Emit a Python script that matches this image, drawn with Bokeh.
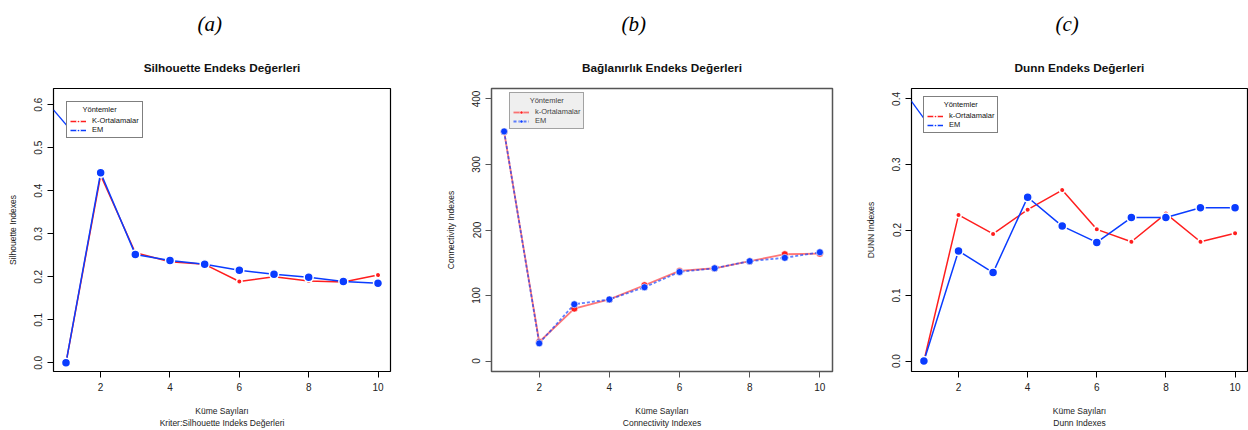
from bokeh.plotting import figure
from bokeh.models import (Range1d, FixedTicker, PrintfTickFormatter, Legend, LegendItem, Title)
from bokeh.layouts import row
from bokeh.embed import file_html
from bokeh.resources import INLINE

# ---------------- data ----------------
kume = [1, 2, 3, 4, 5, 6, 7, 8, 9, 10]

sil_kmeans = [0.0, 0.436, 0.256, 0.235, 0.229, 0.189, 0.200, 0.190, 0.188, 0.204]
sil_em = [0.0, 0.442, 0.252, 0.238, 0.229, 0.215, 0.206, 0.199, 0.189, 0.185]

con_kmeans = [350, 29, 80, 94, 115.7, 137.6, 141.6, 152.4, 163, 164]
con_em = [350.5, 27, 86.6, 94, 112.6, 136, 141.6, 152.4, 157.5, 166]

dunn_kmeans = [0.0, 0.223, 0.194, 0.231, 0.261, 0.201, 0.182, 0.225, 0.182, 0.195]
dunn_em = [0.0, 0.168, 0.135, 0.250, 0.206, 0.181, 0.219, 0.219, 0.234, 0.234]

# stray legend connector lines visible in the original panels (a) and (c)
stray_a_x = [0.64, 1.16]
stray_a_y = [0.588, 0.539]
stray_c_x = [0.63, 1.13]
stray_c_y = [0.397, 0.361]

x_ticks = [2, 4, 6, 8, 10]
sil_ticks = [0.0, 0.1, 0.2, 0.3, 0.4, 0.5, 0.6]
con_ticks = [0, 100, 200, 300, 400]
dunn_ticks = [0.0, 0.1, 0.2, 0.3, 0.4]

panel_letters = ["(a)", "(b)", "(c)"]
titles = ["Silhouette Endeks Değerleri", "Bağlanırlık Endeks Değerleri", "Dunn Endeks Değerleri"]
xlab1 = "Küme Sayıları"
xlab2 = ["Kriter:Silhouette Indeks Değerleri", "Connectivity Indexes", "Dunn Indexes"]
ylabs = ["Silhouette Indexes", "Connectivity Indexes", "DUNN Indexes"]
legend_title = "Yöntemler"
legend_labels_a = ["K-Ortalamalar", "EM"]
legend_labels_b = ["k-Ortalamalar", "EM"]
legend_labels_c = ["k-Ortalamalar", "EM"]

FONT = "Liberation Sans"
RED = "#ff1e1e"
BLUE = "#0a3cff"
H = 430


def make_panel(width, bl, br, x_end, y_rng, y_ticks, fmt,
               km, em, letter, title, x2, ylab, leg_labels, leg_loc, leg_pad_n,
               letter_offset, stray=None, style="a"):
    p = figure(width=width, height=H, output_backend="svg", toolbar_location=None,
               x_range=Range1d(0.64, x_end), y_range=Range1d(*y_rng),
               min_border_left=bl, min_border_right=br, min_border_top=87,
               min_border_bottom=59, background_fill_color="white",
               border_fill_color="white", title=None)

    p.grid.visible = False
    box_col = "#555555" if style == "b" else "black"
    p.outline_line_color = box_col
    p.outline_line_width = 1.5 if style == "b" else 1.2

    for ax in (p.xaxis[0], p.yaxis[0]):
        ax.axis_line_color = None
        ax.major_tick_out = 6
        ax.major_tick_in = 0
        ax.minor_tick_line_color = None
        ax.major_tick_line_color = box_col
        ax.major_label_text_font = FONT
        ax.major_label_text_font_size = "10px"
        ax.major_label_text_color = "#222222"
        ax.major_label_standoff = 5
        ax.axis_label_text_font = FONT
        ax.axis_label_text_font_size = "8.5px"
        ax.axis_label_text_font_style = "normal"
        ax.axis_label_text_color = "#222222"
    p.xaxis.ticker = FixedTicker(ticks=x_ticks)
    p.yaxis.ticker = FixedTicker(ticks=y_ticks)
    p.yaxis.formatter = PrintfTickFormatter(format=fmt)
    p.yaxis.major_label_orientation = "vertical"
    p.yaxis.axis_label = ylab
    p.yaxis.axis_label_standoff = 14
    p.xaxis.axis_label = xlab1 + "\n" + x2
    p.xaxis.axis_label_standoff = 12

    if stray is not None:
        p.line(stray[0], stray[1], color=BLUE, line_width=1.3)

    if style == "b":
        rl = p.line(kume, km, color=RED, line_width=1.8, line_alpha=0.6)
        rs = p.scatter(kume, km, size=7, fill_color=RED, line_color="white",
                       line_width=1, line_alpha=0.6)
        bln = p.line(kume, em, color=BLUE, line_width=1.8, line_alpha=0.65, line_dash="3 2")
        bs = p.scatter(kume, em, size=7, fill_color=BLUE, line_color="white",
                       line_width=1, line_alpha=0.6)
    else:
        rl = p.line(kume, km, color=RED, line_width=1.5)
        rs = p.scatter(kume, km, size=5.5, fill_color=RED, line_color="white", line_width=1.5)
        bln = p.line(kume, em, color=BLUE, line_width=1.5)
        bs = p.scatter(kume, em, size=9, fill_color=BLUE, line_color="white", line_width=1.5)

    txt_col = "#444444" if style == "b" else "#111111"
    leg = Legend(items=[LegendItem(label=leg_labels[0], renderers=[rl, rs]),
                        LegendItem(label=leg_labels[1], renderers=[bln, bs])],
                 location=leg_loc, orientation="vertical",
                 title="\u00a0" * leg_pad_n + legend_title,
                 title_text_font=FONT, title_text_font_size="7.5px",
                 title_text_font_style="normal", title_text_color=txt_col,
                 title_standoff=2,
                 label_text_font=FONT, label_text_font_size="7.5px",
                 label_text_color=txt_col,
                 label_height=8, glyph_height=8, glyph_width=16,
                 label_standoff=6, spacing=0, padding=3, margin=0,
                 border_line_color=box_col, border_line_width=1.3,
                 background_fill_color="#efefef" if style == "b" else "white",
                 background_fill_alpha=1.0)
    p.add_layout(leg, "center")

    p.add_layout(Title(text=title, align="center", text_font=FONT,
                       text_font_size="11.8px", text_font_style="bold",
                       text_color="#111111", standoff=10, padding=9), "above")
    p.add_layout(Title(text=letter, align="left", offset=letter_offset,
                       text_font="Liberation Serif", text_font_style="italic",
                       text_font_size="21px", text_color="black", standoff=4,
                       padding=7), "above")
    return p


pa = make_panel(420, 53, 30, 10.36, (-0.0202, 0.6377), sil_ticks, "%.1f",
                sil_kmeans, sil_em, panel_letters[0], titles[0], xlab2[0], ylabs[0],
                legend_labels_a, (13, 233), 6, 137,
                stray=(stray_a_x, stray_a_y), style="a")
pb = make_panel(420, 71, 8, 10.36, (-16, 416), con_ticks, "%d",
                con_kmeans, con_em, panel_letters[1], titles[1], xlab2[1], ylabs[1],
                legend_labels_b, (18, 242), 8, 123,
                stray=None, style="b")
pc = make_panel(408, 71, 1, 10.36, (-0.016, 0.416), dunn_ticks, "%.1f",
                dunn_kmeans, dunn_em, panel_letters[2], titles[2], xlab2[2], ylabs[2],
                legend_labels_c, (12, 238), 8, 137,
                stray=(stray_c_x, stray_c_y), style="c")

layout = row(pa, pb, pc, spacing=0)
open("out.html", "w").write(file_html(layout, INLINE))
